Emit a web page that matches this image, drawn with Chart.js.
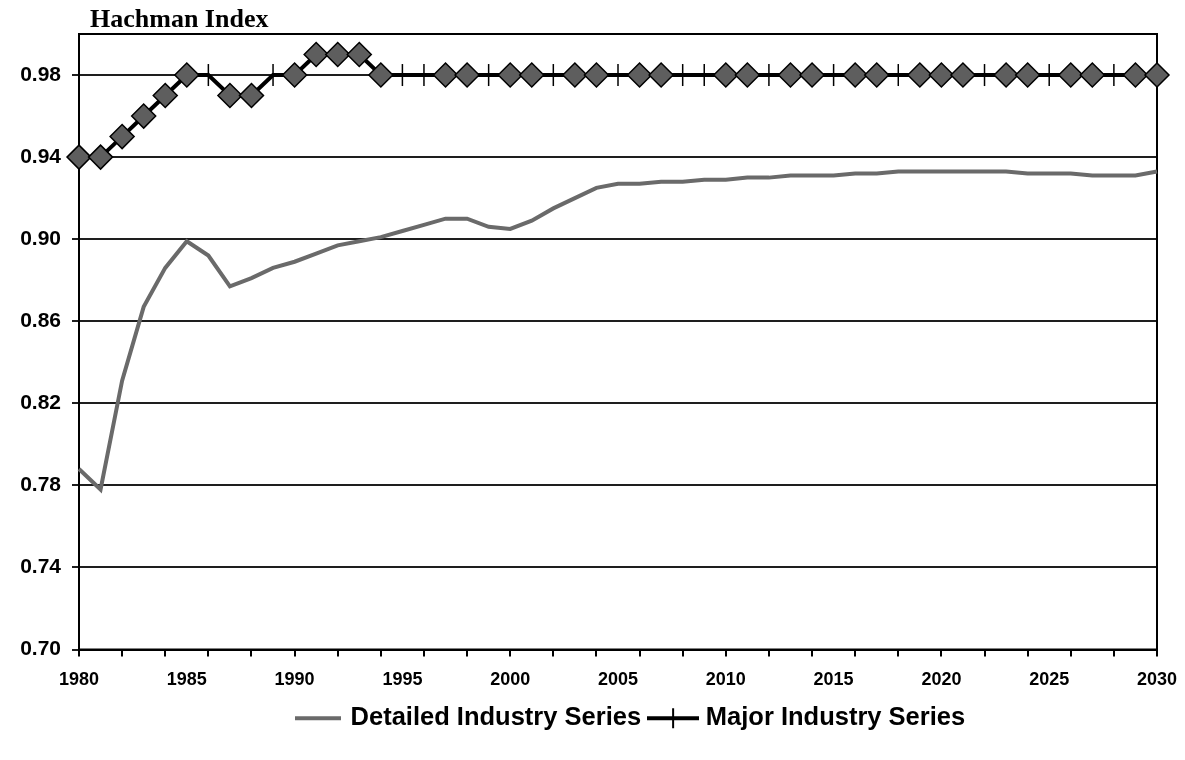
<!DOCTYPE html>
<html>
<head>
<meta charset="utf-8">
<script src="https://cdn.jsdelivr.net/npm/chart.js@4.4.1/dist/chart.umd.min.js"></script>
<style>
  html, body { margin: 0; padding: 0; background: #fff; }
  #wrap { width: 1185px; height: 760px; }
</style>
</head>
<body>
<div id="wrap"><canvas id="chart" width="1185" height="760"></canvas></div>
<script>
// values
const chartTitle = 'Hachman Index';

const years = [
  1980, 1981, 1982, 1983, 1984, 1985, 1986, 1987, 1988, 1989,
  1990, 1991, 1992, 1993, 1994, 1995, 1996, 1997, 1998, 1999,
  2000, 2001, 2002, 2003, 2004, 2005, 2006, 2007, 2008, 2009,
  2010, 2011, 2012, 2013, 2014, 2015, 2016, 2017, 2018, 2019,
  2020, 2021, 2022, 2023, 2024, 2025, 2026, 2027, 2028, 2029,
  2030
];

const detailedSeries = [
  0.788, 0.778, 0.831, 0.867, 0.886, 0.899, 0.892, 0.877, 0.881, 0.886,
  0.889, 0.893, 0.897, 0.899, 0.901, 0.904, 0.907, 0.910, 0.910, 0.906,
  0.905, 0.909, 0.915, 0.920, 0.925, 0.927, 0.927, 0.928, 0.928, 0.929,
  0.929, 0.930, 0.930, 0.931, 0.931, 0.931, 0.932, 0.932, 0.933, 0.933,
  0.933, 0.933, 0.933, 0.933, 0.932, 0.932, 0.932, 0.931, 0.931, 0.931,
  0.933
];

const majorSeries = [
  0.94, 0.94, 0.95, 0.96, 0.97, 0.98, 0.98, 0.97, 0.97, 0.98,
  0.98, 0.99, 0.99, 0.99, 0.98, 0.98, 0.98, 0.98, 0.98, 0.98,
  0.98, 0.98, 0.98, 0.98, 0.98, 0.98, 0.98, 0.98, 0.98, 0.98,
  0.98, 0.98, 0.98, 0.98, 0.98, 0.98, 0.98, 0.98, 0.98, 0.98,
  0.98, 0.98, 0.98, 0.98, 0.98, 0.98, 0.98, 0.98, 0.98, 0.98,
  0.98
];

// years where the major series shows a diamond (the others only show the tick)
const diamondYears = [
  1980, 1981, 1982, 1983, 1984, 1985, 1987, 1988, 1990, 1991, 1992, 1993, 1994,
  1997, 1998, 2000, 2001, 2003, 2004, 2006, 2007, 2010, 2011, 2013, 2014,
  2016, 2017, 2019, 2020, 2021, 2023, 2024, 2026, 2027, 2029, 2030
];

const yTickValues = [0.70, 0.74, 0.78, 0.82, 0.86, 0.90, 0.94, 0.98];
const seriesNames = ['Detailed Industry Series', 'Major Industry Series'];

const detailedColor = '#6a6a6a';

function legendSample(withTick, color) {
  const c = document.createElement('canvas');
  c.width = withTick ? 52 : 46;
  c.height = 26;
  const g = c.getContext('2d');
  g.strokeStyle = color;
  g.lineWidth = 4;
  g.beginPath();
  g.moveTo(0, 13);
  g.lineTo(c.width, 13);
  g.stroke();
  if (withTick) {
    g.lineWidth = 2;
    g.beginPath();
    g.moveTo(26, 3);
    g.lineTo(26, 23);
    g.stroke();
  }
  return c;
}

const hasDiamond = ctx => diamondYears.includes(years[ctx.dataIndex]);

const frame = {
  id: 'frame',
  afterLayout(chart) {
    // the legend sits a bit right of the page centre in the original
    chart.legend.left += 44;
    chart.legend.right += 44;
  },
  beforeDatasetsDraw(chart) {
    const { ctx, chartArea: a } = chart;
    ctx.save();
    ctx.strokeStyle = '#000';
    ctx.lineWidth = 2;
    ctx.strokeRect(a.left, a.top, a.right - a.left, a.bottom - a.top);
    ctx.restore();
  },
  afterDraw(chart) {
    const ctx = chart.ctx;
    ctx.save();
    ctx.fillStyle = '#000';
    ctx.font = 'bold 26px "Liberation Serif", "Times New Roman", serif';
    ctx.textBaseline = 'alphabetic';
    ctx.fillText(chartTitle, 90, 27);
    ctx.restore();
  }
};

new Chart(document.getElementById('chart'), {
  type: 'line',
  data: {
    labels: years,
    datasets: [
      {
        label: seriesNames[0],
        data: detailedSeries,
        borderColor: detailedColor,
        borderWidth: 4,
        pointRadius: 0,
        tension: 0,
        fill: false
      },
      {
        label: seriesNames[1],
        data: majorSeries,
        borderColor: '#000',
        borderWidth: 4,
        tension: 0,
        fill: false,
        clip: false,
        pointStyle: ctx => hasDiamond(ctx) ? 'rectRot' : 'line',
        rotation: ctx => hasDiamond(ctx) ? 0 : 90,
        pointRadius: ctx => hasDiamond(ctx) ? 12 : 11,
        pointBackgroundColor: '#5e5e5e',
        pointBorderColor: '#000',
        pointBorderWidth: 1.5
      }
    ]
  },
  options: {
    responsive: false,
    animation: false,
    events: [],
    layout: { padding: { left: 18, right: 28, top: 34, bottom: 19 } },
    plugins: {
      title: { display: false },
      tooltip: { enabled: false },
      legend: {
        position: 'bottom',
        labels: {
          usePointStyle: true,
          pointStyleWidth: 40,
          padding: 12,
          color: '#000',
          font: { family: '"Liberation Sans", Arial, sans-serif', size: 25.5, weight: 'bold' },
          generateLabels: chart => chart.data.datasets.map((ds, i) => ({
            text: ds.label,
            datasetIndex: i,
            pointStyle: legendSample(i === 1, ds.borderColor),
            fillStyle: 'transparent',
            strokeStyle: 'transparent',
            lineWidth: 0,
            fontColor: '#000'
          }))
        }
      }
    },
    scales: {
      x: {
        type: 'category',
        offset: false,
        afterFit: s => {
          s.height = 44;
          s.paddingLeft = 0;
          s.paddingRight = 20;
        },
        grid: {
          drawOnChartArea: false,
          drawTicks: true,
          tickLength: 7,
          lineWidth: 2,
          color: ctx => ctx.index % 2 === 0 ? '#000' : 'rgba(0,0,0,0)',
          offset: false
        },
        border: { display: true, color: '#000', width: 2 },
        ticks: {
          autoSkip: false,
          maxRotation: 0,
          minRotation: 0,
          padding: 13,
          color: '#000',
          font: { family: '"Liberation Sans", Arial, sans-serif', size: 18, weight: 'bold' },
          callback: (v, i) => years[i] % 5 === 0 ? String(years[i]) : ''
        }
      },
      y: {
        min: 0.70,
        max: 1.00,
        afterBuildTicks: s => { s.ticks = yTickValues.map(v => ({ value: v })); },
        afterFit: s => { s.width = 61; },
        grid: {
          drawOnChartArea: true,
          drawTicks: true,
          tickLength: 7,
          lineWidth: 2,
          color: '#1e1e1e'
        },
        border: { display: true, color: '#000', width: 2 },
        ticks: {
          padding: 11,
          color: '#000',
          font: { family: '"Liberation Sans", Arial, sans-serif', size: 21, weight: 'bold' },
          callback: v => Number(v).toFixed(2)
        }
      }
    }
  },
  plugins: [frame]
});
</script>
</body>
</html>
